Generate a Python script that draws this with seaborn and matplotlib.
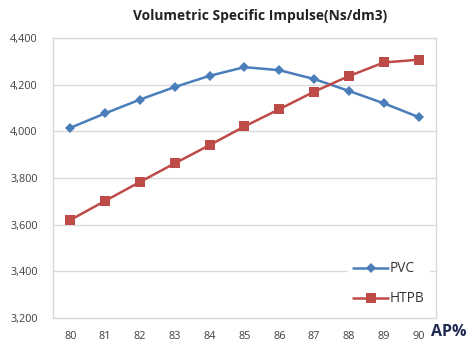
import matplotlib
matplotlib.use("Agg")
import matplotlib.pyplot as plt
import seaborn as sns
import pandas as pd

ap = [80, 81, 82, 83, 84, 85, 86, 87, 88, 89, 90]
pvc = [4015, 4077, 4136, 4190, 4238, 4275, 4262, 4224, 4173, 4120, 4061]
htpb = [3620, 3702, 3783, 3863, 3941, 4021, 4095, 4170, 4237, 4295, 4307]
series_names = ["PVC", "HTPB"]
yticks = [3200, 3400, 3600, 3800, 4000, 4200, 4400]

df = pd.DataFrame({
    "AP": [str(a) for a in ap] * 2,
    "value": pvc + htpb,
    "series": [series_names[0]] * len(ap) + [series_names[1]] * len(ap),
})

sns.set_style("white")
plt.rcParams["font.family"] = ["Open Sans", "DejaVu Sans"]

fig = plt.figure(figsize=(4.72, 3.41), dpi=100)
ax = fig.add_axes([0.112, 0.0674, 0.812, 0.8212])

palette = {"PVC": "#4A7EBB", "HTPB": "#BE4B48"}
sns.lineplot(data=df, x="AP", y="value", hue="series", style="series",
             markers={"PVC": "D", "HTPB": "s"}, dashes=False, palette=palette,
             linewidth=1.8, ax=ax, sort=False)
for line in ax.lines:
    if line.get_marker() == "D":
        line.set_markersize(5)
    else:
        line.set_markersize(7)
    line.set_markeredgewidth(0)

ax.set_xlim(-0.5, len(ap) - 0.5)
ax.set_ylim(3200, 4400)
ax.set_yticks(yticks)
ax.set_yticklabels([f"{v:,}" for v in yticks], fontsize=7.8, color="#404040")
ax.tick_params(axis="x", labelsize=7.8, labelcolor="#404040", length=0, pad=9)
ax.tick_params(axis="y", length=0, pad=11)
ax.grid(axis="y", color="#D9D9D9", linewidth=1)
ax.set_axisbelow(True)
for s in ax.spines.values():
    s.set_color("#D9D9D9")
    s.set_linewidth(1)
ax.set_xlabel("")
ax.set_ylabel("")

fig.text(0.552, 0.953, "Volumetric Specific Impulse(Ns/dm3)", fontsize=9.9,
         fontweight="bold", color="#222222", ha="center", va="center")
fig.text(0.913, 0.026, "AP%", fontsize=11.5, fontweight="bold", color="#1F2A50",
         va="center")

leg = ax.legend(loc="lower right", bbox_to_anchor=(1.0, 0.0), frameon=True,
                fontsize=9.8, handlelength=2.6, labelspacing=1.1, borderpad=0.35,
                handletextpad=0.1)
leg.get_frame().set_edgecolor("white")
leg.get_frame().set_facecolor("white")
leg.get_frame().set_alpha(1)
leg.get_frame().set_boxstyle("square", pad=0)
for t in leg.get_texts():
    t.set_color("#333333")

fig.savefig("out.png", dpi=100)
